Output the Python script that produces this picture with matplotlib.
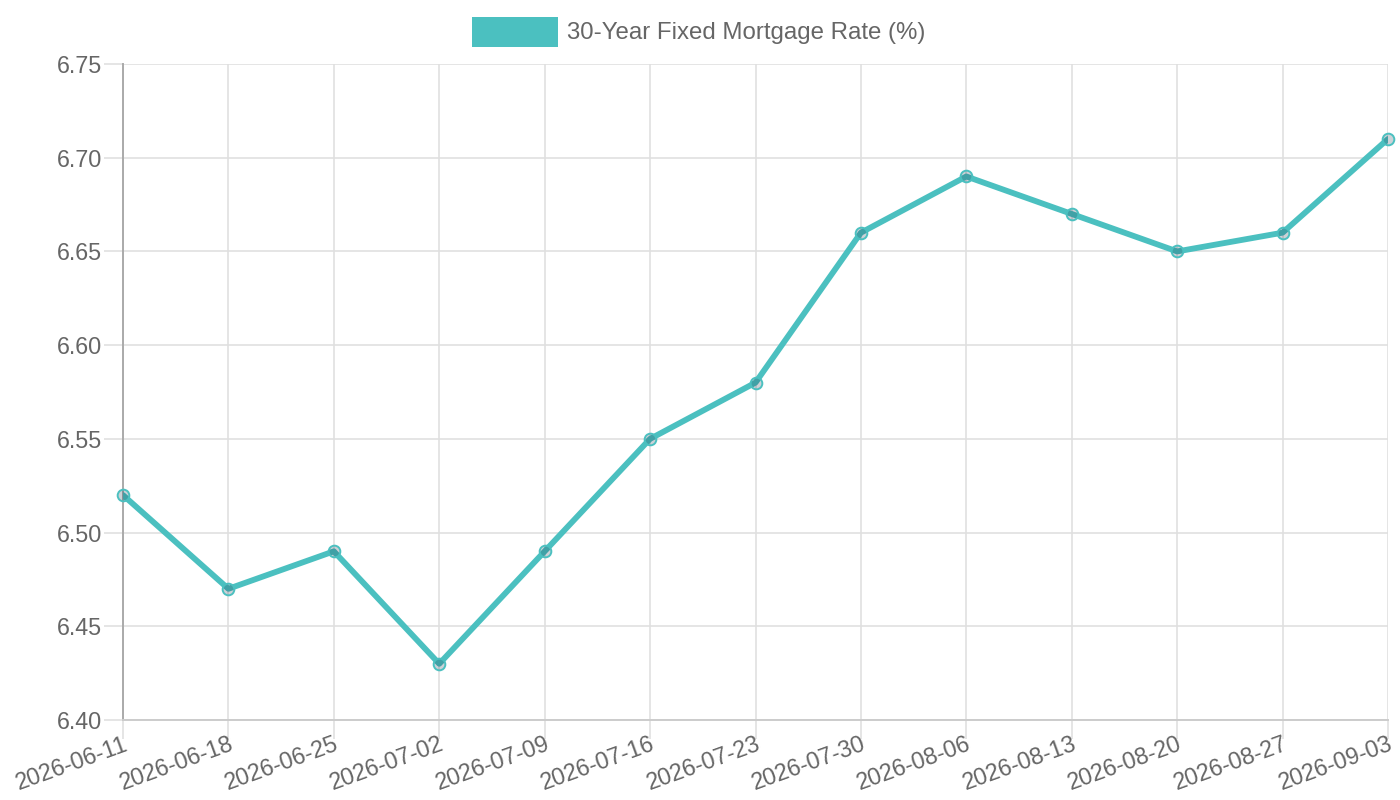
import matplotlib
matplotlib.use("Agg")
import matplotlib.pyplot as plt
from matplotlib.patches import Rectangle

dates = ["2026-06-11", "2026-06-18", "2026-06-25", "2026-07-02", "2026-07-09",
         "2026-07-16", "2026-07-23", "2026-07-30", "2026-08-06", "2026-08-13",
         "2026-08-20", "2026-08-27", "2026-09-03"]
rates = [6.52, 6.47, 6.49, 6.43, 6.49, 6.55, 6.58, 6.66, 6.69, 6.67, 6.65, 6.66, 6.71]
series_label = "30-Year Fixed Mortgage Rate (%)"
y_ticks = [6.40, 6.45, 6.50, 6.55, 6.60, 6.65, 6.70, 6.75]

plt.rcParams['font.family'] = ['Liberation Sans', 'DejaVu Sans']

W, H = 1400, 800
fig = plt.figure(figsize=(14, 8), dpi=100)
ax = fig.add_axes([123 / W, 1 - 720 / H, (1388 - 123) / W, (720 - 64) / H])

teal = "#4BC0C0"
grid_c = "#e0e0e0"
text_c = "#666666"

x = list(range(len(dates)))
ax.plot(x, rates, color=teal, lw=4.2, zorder=3, solid_capstyle='round', solid_joinstyle='round')
ax.plot(x, rates, ls='none', marker='o', ms=8.4, mfc=(0.1, 0.2, 0.3, 0.22), mec=teal, mew=1.4,
        zorder=4, clip_on=False)

ax.set_xlim(0, len(dates) - 1)
ax.set_ylim(6.40, 6.75)
ax.set_yticks(y_ticks)
ax.set_yticklabels([f"{v:.2f}" for v in y_ticks])
ax.set_xticks(x)
ax.set_xticklabels(dates, rotation=20, ha='right', rotation_mode='anchor')

ax.grid(True, color=grid_c, lw=1.2, zorder=0)
ax.tick_params(axis='both', colors=grid_c, labelcolor=text_c, labelsize=16.8, length=14, width=1.2)
ax.tick_params(axis='y', pad=1)
ax.tick_params(axis='x', pad=-5)
for s in ['top', 'right']:
    ax.spines[s].set_visible(False)
ax.spines['left'].set_color('#aaaaaa')
ax.spines['left'].set_linewidth(1.4)
ax.spines['bottom'].set_color('#cccccc')
ax.spines['bottom'].set_linewidth(1.4)
ax.set_axisbelow(True)

# legend
fig.add_artist(Rectangle((472 / W, 1 - 47 / H), 86 / W, 30 / H, transform=fig.transFigure,
                         facecolor=teal, edgecolor='none'))
fig.text(567 / W, 1 - 33 / H, series_label, color=text_c, fontsize=17.3, va='center', ha='left')

fig.savefig("out.png", dpi=100, facecolor='white')
